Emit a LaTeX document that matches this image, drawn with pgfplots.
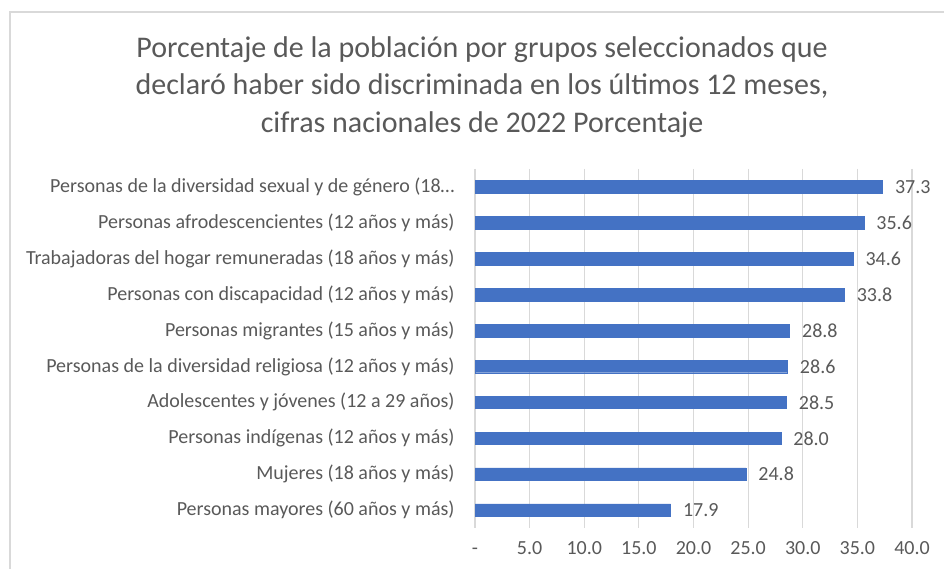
\documentclass[border=0pt]{standalone}
\usepackage{pgfplots}
\pgfplotsset{compat=1.18}
\usepackage{fontspec}
\setmainfont{Carlito}
\definecolor{barblue}{HTML}{4472C4}
\definecolor{txtgray}{HTML}{595959}
\definecolor{gridgray}{HTML}{D9D9D9}
\begin{document}
\begin{tikzpicture}
\useasboundingbox (0,0) rectangle (944bp,569bp);
\draw[gridgray, line width=1.5bp] (10bp,0) -- (10bp,557bp) -- (944bp,557bp);
\node[align=center, text=txtgray, font=\fontsize{30bp}{37.5bp}\selectfont] at (482bp,482bp)
 {Porcentaje de la población por grupos seleccionados que\\declaró haber sido discriminada en los últimos 12 meses,\\cifras nacionales de 2022 Porcentaje};
\begin{axis}[
  at={(475bp,41bp)}, anchor=south west,
  scale only axis, width=437bp, height=359bp,
  xbar, bar width=12.5bp,
  xmin=0, xmax=40, ymin=-0.5, ymax=9.5,
  y dir=reverse,
  axis line style={draw=none},
  xmajorgrids, major grid style={gridgray, line width=1.2bp},
  xtick={0,5,...,40},
  xticklabels={-,5.0,10.0,15.0,20.0,25.0,30.0,35.0,40.0},
  ytick={0,...,9},
  yticklabels={Personas de la diversidad sexual y de género (18…,
    Personas afrodescencientes (12 años y más),
    Trabajadoras del hogar remuneradas (18 años y más),
    Personas con discapacidad (12 años y más),
    Personas migrantes (15 años y más),
    Personas de la diversidad religiosa (12 años y más),
    Adolescentes y jóvenes (12 a 29 años),
    Personas indígenas (12 años y más),
    Mujeres (18 años y más),
    Personas mayores (60 años y más)},
  major tick length=0,
  tick label style={text=txtgray, font=\fontsize{20bp}{24bp}\selectfont},
  xticklabel style={yshift=-10bp, text height=13bp, text depth=0bp},
  yticklabel style={xshift=-17bp},
  /pgf/number format/assume math mode=true,
  nodes near coords,
  nodes near coords style={text=txtgray, font=\fontsize{20bp}{24bp}\selectfont, xshift=9bp,
    /pgf/number format/.cd, fixed, fixed zerofill, precision=1},
  clip=false,
]
\addplot[fill=barblue, draw=barblue] coordinates {
 (37.3,0) (35.6,1) (34.6,2) (33.8,3) (28.8,4) (28.6,5) (28.5,6) (28.0,7) (24.8,8) (17.9,9)};
\end{axis}
\end{tikzpicture}
\end{document}
